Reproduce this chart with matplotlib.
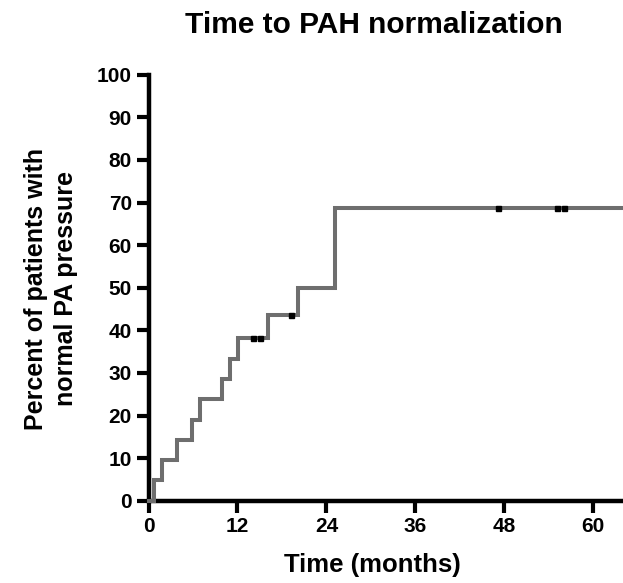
import numpy as np
import matplotlib
matplotlib.use("Agg")
import matplotlib.pyplot as plt

plt.rcParams['font.family'] = ['Liberation Sans', 'DejaVu Sans']
plt.rcParams['font.weight'] = 'bold'

# Data (Kaplan-Meier style cumulative curve)
event_times = [0.75, 1.8, 3.9, 5.8, 6.9, 9.9, 11.0, 12.1, 16.1, 20.1, 25.2]
event_levels = [4.8, 9.5, 14.3, 19.0, 23.8, 28.6, 33.3, 38.1, 43.7, 50.0, 68.7]
censor_times = [14.1, 15.1, 19.2, 47.2, 55.1, 56.1]
end_time = 64.0

x_ticks = [0, 12, 24, 36, 48, 60]
y_ticks = list(range(0, 101, 10))

title = "Time to PAH normalization"
xlabel = "Time (months)"
ylabel = "Percent of patients with\nnormal PA pressure"

W, H = 623, 583
fig = plt.figure(figsize=(W / 100, H / 100), dpi=100)
ax = fig.add_axes([148.5 / W, (H - 500.7) / H, (W - 148.5) / W, (500.7 - 74.8) / H])

xs = [0.0] + event_times + [end_time]
ys = [0.0] + event_levels + [event_levels[-1]]
ax.step(xs, ys, where='post', color='#6e6e6e', lw=2.9, solid_joinstyle='miter', zorder=3, clip_on=False)

# censor marks on the curve
def level_at(t):
    idx = np.searchsorted(event_times, t, side='right') - 1
    return 0.0 if idx < 0 else event_levels[idx]

cy = [level_at(t) for t in censor_times]
ax.plot(censor_times, cy, linestyle='none', marker='s', markersize=3.6,
        color='black', zorder=4, clip_on=False)

ax.set_xlim(0, end_time)
ax.set_ylim(0, 100)
ax.set_xticks(x_ticks)
ax.set_yticks(y_ticks)
ax.set_xticklabels([str(v) for v in x_ticks])
ax.set_yticklabels([str(v) for v in y_ticks])

for s in ['top', 'right']:
    ax.spines[s].set_visible(False)
for s in ['left', 'bottom']:
    ax.spines[s].set_linewidth(3.2)
    ax.spines[s].set_color('black')
    ax.spines[s].set_capstyle('projecting')

ax.tick_params(axis='both', direction='out', length=8.5, width=3.0, color='black',
               labelsize=15, pad=3.5)
for lab in ax.get_xticklabels() + ax.get_yticklabels():
    lab.set_fontweight('bold')

fig.text(374 / W, 1 - 33 / H, title, ha='center', va='baseline',
         fontsize=21.5, fontweight='bold')
fig.text(372.5 / W, 1 - 572 / H, xlabel, ha='center', va='baseline',
         fontsize=18.5, fontweight='bold')
fig.text(51 / W, 1 - 289 / H, ylabel, ha='center', va='center', rotation=90,
         fontsize=18, fontweight='bold', linespacing=1.35, multialignment='center')

fig.savefig("out.png", dpi=100)
